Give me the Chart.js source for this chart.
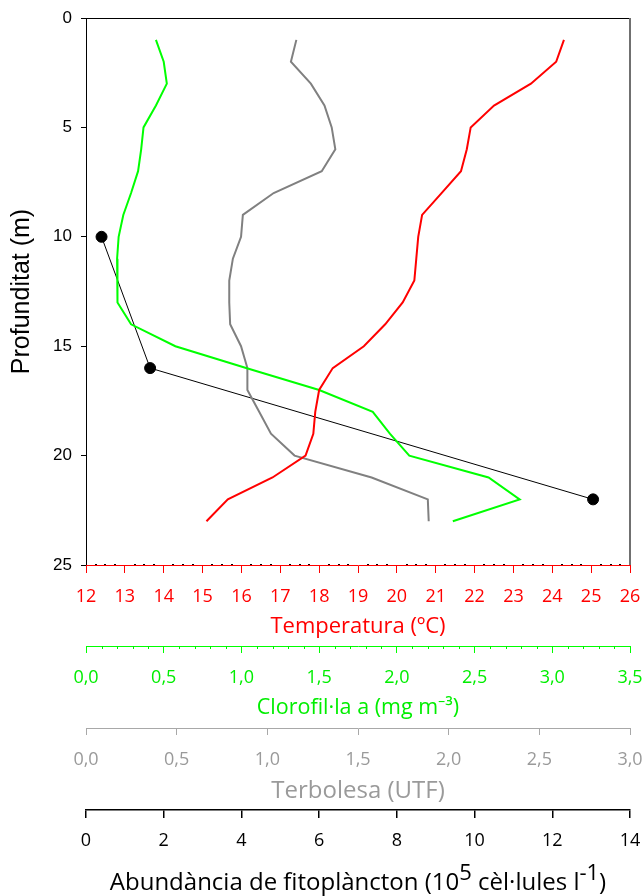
<!DOCTYPE html>
<html>
<head>
<meta charset="utf-8">
<script src="https://cdn.jsdelivr.net/npm/chart.js@4/dist/chart.umd.min.js"></script>
<style>
  html, body { margin: 0; padding: 0; background: #fff; }
  #wrap { width: 643px; height: 896px; }
</style>
</head>
<body>
<div id="wrap"><canvas id="perfil" width="643" height="896"></canvas></div>
<script>
// perfil vertical: un punt per metre, d'1 a 23 m
const profunditat = [1, 2, 3, 4, 5, 6, 7, 8, 9, 10, 11, 12, 13, 14, 15, 16, 17, 18, 19, 20, 21, 22, 23];
const temperatura = [24.3, 24.1, 23.45, 22.5, 21.9, 21.8, 21.65, 21.15, 20.65, 20.55, 20.5, 20.45,
  20.15, 19.7, 19.15, 18.35, 18.0, 17.9, 17.85, 17.65, 16.8, 15.65, 15.1];
const clorofilla = [0.45, 0.5, 0.52, 0.45, 0.37, 0.355, 0.335, 0.29, 0.24, 0.21, 0.2, 0.2,
  0.205, 0.29, 0.575, 1.03, 1.5, 1.845, 1.955, 2.08, 2.59, 2.79, 2.36];
const terbolesa = [1.16, 1.13, 1.24, 1.315, 1.355, 1.375, 1.3, 1.035, 0.865, 0.855, 0.81, 0.79,
  0.79, 0.795, 0.855, 0.89, 0.89, 0.955, 1.02, 1.15, 1.575, 1.885, 1.89];
// mostres de fitoplàncton
const profFito = [10, 16, 22];
const fitoplancton = [0.4, 1.65, 13.05];

// títol de l'eix de fitoplàncton, amb exponents
const titolFito = [
  { t: "Abundància de fitoplàncton (10", sup: false },
  { t: "5", sup: true },
  { t: " cèl·lules l", sup: false },
  { t: "-1", sup: true },
  { t: ")", sup: false },
];

const VERMELL = "#ff0000";
const VERD = "#00ee00";
const GRIS = "#808080";
const GRIS_TXT = "#9a9a9a";

const sansX = "'Open Sans', 'Noto Sans', sans-serif";
const sansY = "'Liberation Sans', Arial, sans-serif";

const punts = (xs, ys) => xs.map((v, i) => ({ x: v, y: ys[i] }));
const coma = v => Number(v).toFixed(1).replace(".", ",");

// eix horitzontal apilat sota el gràfic
const eixX = (cfg) => ({
  type: "linear",
  position: "bottom",
  weight: cfg.weight,
  min: cfg.min,
  max: cfg.max,
  border: { color: cfg.linia || cfg.color, width: cfg.gruix || 1 },
  grid: { drawOnChartArea: false, drawTicks: true, tickLength: cfg.tick, color: cfg.linia || cfg.color, lineWidth: cfg.gruix || 1 },
  ticks: {
    stepSize: cfg.step,
    autoSkip: false,
    maxRotation: 0,
    padding: cfg.pad,
    color: cfg.color,
    font: { family: sansX, size: 18 },
    callback: cfg.fmt,
  },
  title: {
    display: !!cfg.titol,
    text: cfg.titol || "",
    color: cfg.color,
    font: { family: sansX, size: cfg.mida },
    padding: { top: 0, bottom: cfg.tpad },
  },
  afterFit: s => { s.height = cfg.alt; s.paddingLeft = 0; s.paddingRight = 0; },
});

// marques menors, marc superior/dret i títol amb exponents
const marc = {
  id: "marc",
  afterDraw(chart) {
    const ctx = chart.ctx;
    const a = chart.chartArea;
    ctx.save();
    ctx.strokeStyle = "#000";
    ctx.lineWidth = 1;
    ctx.beginPath();
    ctx.moveTo(a.left, a.top + 0.5);
    ctx.lineTo(a.right, a.top + 0.5);
    ctx.stroke();
    ctx.strokeStyle = "#707070";
    ctx.lineWidth = 2;
    ctx.beginPath();
    ctx.moveTo(a.right, a.top);
    ctx.lineTo(a.right, a.bottom);
    ctx.stroke();

    const t = chart.scales.xTemp;
    ctx.fillStyle = "#000";
    for (let i = 1; i < 56; i++) {
      if (i % 4 === 0) continue;
      const x = t.getPixelForValue(12 + i / 4);
      ctx.fillRect(Math.round(x) - 1, t.top - 1, 2, 1);
    }
    const c = chart.scales.xChl;
    ctx.strokeStyle = VERD;
    ctx.lineWidth = 1;
    for (let i = 1; i < 35; i++) {
      if (i % 5 === 0) continue;
      const x = Math.round(c.getPixelForValue(i / 10)) + 0.5;
      ctx.beginPath();
      ctx.moveTo(x, c.top);
      ctx.lineTo(x, c.top + 3);
      ctx.stroke();
    }

    const f = chart.scales.xFito;
    ctx.fillStyle = "#000";
    ctx.textBaseline = "alphabetic";
    ctx.textAlign = "left";
    const mida = s => s.sup ? "22px " + sansX : "24px " + sansX;
    let ample = 0;
    titolFito.forEach(s => { ctx.font = mida(s); ample += ctx.measureText(s.t).width; });
    let x = (f.left + f.right) / 2 - ample / 2;
    const base = f.bottom - 6;
    titolFito.forEach(s => {
      ctx.font = mida(s);
      ctx.fillText(s.t, x, s.sup ? base - 10 : base);
      x += ctx.measureText(s.t).width;
    });
    ctx.restore();
  },
};

new Chart(document.getElementById("perfil"), {
  type: "line",
  data: {
    datasets: [
      { data: punts(temperatura, profunditat), xAxisID: "xTemp", yAxisID: "y",
        borderColor: VERMELL, borderWidth: 2, pointRadius: 0 },
      { data: punts(clorofilla, profunditat), xAxisID: "xChl", yAxisID: "y",
        borderColor: "#00ff00", borderWidth: 2, pointRadius: 0 },
      { data: punts(terbolesa, profunditat), xAxisID: "xTurb", yAxisID: "y",
        borderColor: GRIS, borderWidth: 2, pointRadius: 0 },
      { data: punts(fitoplancton, profFito), xAxisID: "xFito", yAxisID: "y",
        borderColor: "#000", borderWidth: 1, pointRadius: 5.5,
        pointBackgroundColor: "#000", pointBorderColor: "#000" },
    ],
  },
  options: {
    responsive: false,
    animation: false,
    events: [],
    layout: { padding: { top: 18, right: 13, bottom: 0, left: 0 } },
    plugins: { legend: { display: false }, tooltip: { enabled: false } },
    elements: { line: { tension: 0 } },
    scales: {
      y: {
        type: "linear",
        position: "left",
        reverse: true,
        min: 0,
        max: 25,
        border: { color: "#000", width: 1 },
        grid: { drawOnChartArea: false, tickLength: 5, color: "#000" },
        ticks: { stepSize: 5, padding: 9, color: "#000", font: { family: sansY, size: 17 } },
        title: {
          display: true,
          text: "Profunditat (m)",
          color: "#000",
          font: { family: sansY, size: 25 },
          padding: { top: 7, bottom: 0 },
        },
        afterFit: s => { s.width = 86; s.paddingTop = 0; s.paddingBottom = 0; },
      },
      xTemp: eixX({ weight: 0, min: 12, max: 26, step: 1, color: VERMELL, tick: 8, pad: 13,
        titol: "Temperatura (ºC)", mida: 22, tpad: 6, alt: 81, fmt: v => v }),
      xChl: eixX({ weight: 1, min: 0, max: 3.5, step: 0.5, color: VERD, linia: "#00ff00", tick: 7, pad: 14,
        titol: "Clorofil·la a (mg m⁻³)", mida: 21.5, tpad: 7, alt: 82, fmt: coma }),
      xTurb: eixX({ weight: 2, min: 0, max: 3, step: 0.5, color: GRIS_TXT, linia: "#a8a8a8", tick: 7, pad: 14,
        titol: "Terbolesa (UTF)", mida: 24, tpad: 4, alt: 82, fmt: coma }),
      xFito: eixX({ weight: 3, min: 0, max: 14, step: 2, color: "#000", tick: 8, pad: 12, gruix: 1.5,
        titol: null, alt: 86, fmt: v => v }),
    },
  },
  plugins: [marc],
});
</script>
</body>
</html>
